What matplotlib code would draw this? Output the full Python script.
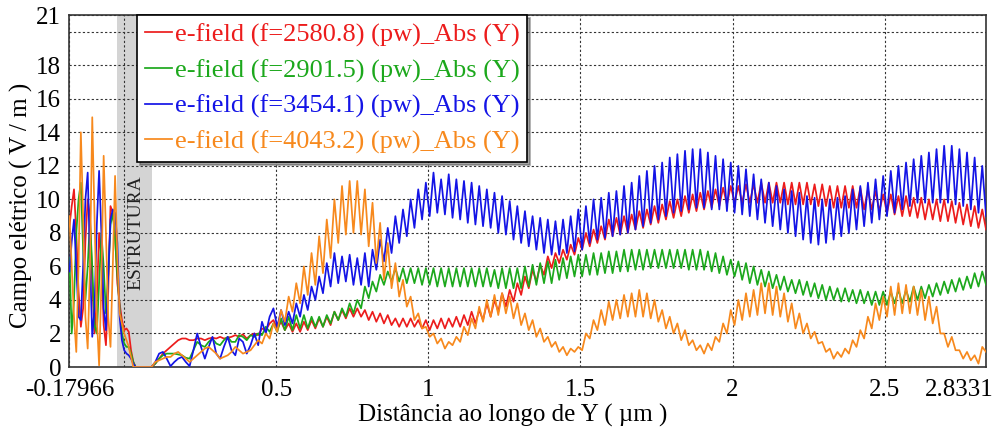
import numpy as np
import matplotlib.pyplot as plt
from matplotlib.transforms import ScaledTranslation

plt.rcParams["font.family"] = ["Liberation Serif", "DejaVu Serif"]

LABELS = [
    "e-field (f=2580.8) (pw)_Abs (Y)",
    "e-field (f=2901.5) (pw)_Abs (Y)",
    "e-field (f=3454.1) (pw)_Abs (Y)",
    "e-field (f=4043.2) (pw)_Abs (Y)",
]
COLORS = ["#ec1c1c", "#1ca81c", "#1414e6", "#f7891d"]

# sample positions (µm): left of the structure, then the region after it
X_LEFT = np.linspace(-0.17966, 0.0828, 36)
X_MAIN = np.linspace(0.09, 2.8331, 220)

RED_LEFT = [8.4, 9.6, 10.6, 8.0, 4.5, 2.4, 3.5, 7.5, 10.0, 9.0, 5.0, 2.0,
            4.0, 8.0, 6.5, 2.5, 1.3, 4.5, 9.6, 9.2, 8.0, 5.0, 3.8, 2.8,
            2.2, 2.3, 2.1, 1.0, 0.3, 0.0, 0.0, 0.0, 0.0, 0.0, 0.0, 0.0]
GREEN_LEFT = [6.5, 2.0, 4.0, 8.0, 10.0, 11.0, 7.0, 4.0, 6.0, 8.8, 6.0, 2.5,
              2.0, 5.0, 8.0, 6.0, 3.2, 5.5, 8.5, 9.2, 7.6, 5.5, 3.6, 2.0,
              1.4, 1.2, 1.2, 0.8, 0.3, 0.0, 0.0, 0.0, 0.0, 0.0, 0.0, 0.0]
BLUE_LEFT = [5.7, 7.5, 8.8, 6.0, 3.0, 2.8, 6.0, 10.0, 11.6, 6.5, 1.8, 3.5,
             8.5, 11.7, 8.0, 3.5, 2.2, 5.5, 8.8, 9.4, 9.2, 7.4, 3.0, 1.6,
             1.0, 0.8, 0.7, 0.5, 0.2, 0.0, 0.0, 0.0, 0.0, 0.0, 0.0, 0.0]
ORANGE_LEFT = [9.0, 6.0, 3.0, 0.9, 6.0, 14.0, 9.0, 3.0, 1.1, 6.0, 14.9, 9.0,
               3.0, 0.1, 5.0, 12.6, 8.0, 3.0, 1.2, 6.0, 11.4, 6.5, 3.2, 2.6,
               2.0, 1.6, 1.2, 0.6, 0.0, 0.0, 0.0, 0.0, 0.0, 0.0, 0.0, 0.0]

RED_MAIN = [
    0.0, 0.2, 0.5, 0.8, 1.0, 1.2, 1.4, 1.6,
    1.7, 1.7, 1.6, 1.6, 1.7, 1.7, 1.6, 1.7,
    1.75, 1.7, 1.8, 1.7, 1.75, 1.8, 1.9, 1.8,
    1.95, 1.7, 1.9, 2.0, 1.9, 2.3, 2.2, 2.6,
    2.8, 2.3, 2.7, 2.2, 2.6, 2.1, 2.6, 2.1,
    2.7, 2.2, 2.8, 2.3, 2.9, 2.4, 3.0, 2.5,
    3.3, 2.8, 3.4, 2.9, 3.5, 3.0, 3.5, 3.0,
    3.4, 2.8, 3.3, 2.7, 3.2, 2.6, 3.1, 2.5,
    2.9, 2.4, 2.9, 2.4, 2.9, 2.4, 2.8, 2.3,
    2.8, 2.2, 2.8, 2.3, 2.9, 2.3, 2.9, 2.4,
    3.0, 2.4, 3.1, 2.5, 3.3, 2.6, 3.4, 2.8,
    3.8, 3.0, 4.0, 3.3, 4.4, 3.6, 4.6, 3.9,
    5.0, 4.3, 5.4, 4.7, 5.8, 5.1, 6.1, 5.5,
    6.6, 5.9, 6.8, 6.2, 7.0, 6.4, 7.3, 6.7,
    7.7, 7.0, 8.0, 7.2, 8.2, 7.4, 8.4, 7.6,
    8.8, 7.8, 8.9, 7.9, 9.0, 8.0, 9.1, 8.2,
    9.3, 8.3, 9.4, 8.5, 9.6, 8.6, 9.7, 8.8,
    9.9, 8.9, 10.0, 9.0, 10.2, 9.2, 10.3, 9.3,
    10.4, 9.4, 10.5, 9.5, 10.6, 9.6, 10.7, 9.7,
    10.8, 9.8, 10.8, 9.8, 10.9, 9.8, 10.9, 9.8,
    11.0, 9.8, 11.0, 9.8, 11.0, 9.8, 11.0, 9.7,
    11.0, 9.7, 11.0, 9.7, 11.0, 9.7, 10.9, 9.6,
    10.9, 9.6, 10.8, 9.5, 10.8, 9.5, 10.8, 9.5,
    10.8, 9.5, 10.7, 9.4, 10.6, 9.4, 10.5, 9.3,
    10.3, 9.2, 10.3, 9.1, 10.2, 9.0, 10.2, 9.0,
    10.1, 8.9, 10.1, 8.8, 10.0, 8.8, 10.0, 8.7,
    10.0, 8.7, 9.9, 8.6, 9.8, 8.5, 9.7, 8.4,
    9.6, 8.3, 9.4, 8.2,
]
GREEN_MAIN = [
    0.0, 0.2, 0.5, 0.7, 0.8, 0.8, 0.8, 0.75,
    0.7, 0.55, 0.5, 1.0, 1.5, 1.3, 1.2, 1.5,
    1.7, 1.4, 1.3, 1.6, 1.8, 1.5, 1.5, 1.9,
    1.8, 1.6, 1.9, 1.8, 2.0, 1.9, 2.4, 2.1,
    2.6, 2.1, 2.9, 2.2, 3.0, 2.2, 3.1, 2.3,
    3.1, 2.3, 3.0, 2.4, 3.0, 2.4, 3.1, 2.6,
    3.3, 2.8, 3.5, 3.0, 3.8, 3.2, 4.0, 3.5,
    4.8, 4.1, 5.1, 4.5, 5.5, 4.9, 5.7, 5.1,
    5.9, 5.1, 5.9, 5.0, 5.9, 5.0, 5.9, 4.9,
    5.9, 4.9, 5.9, 4.8, 5.9, 4.8, 5.9, 4.8,
    5.9, 4.8, 5.9, 4.8, 5.9, 4.8, 5.9, 4.8,
    5.9, 4.8, 5.8, 4.7, 5.9, 4.7, 5.9, 4.7,
    5.9, 4.7, 6.0, 4.8, 6.1, 4.9, 6.2, 5.0,
    6.3, 5.0, 6.4, 5.2, 6.5, 5.3, 6.6, 5.4,
    6.7, 5.4, 6.7, 5.5, 6.8, 5.5, 6.8, 5.6,
    6.9, 5.6, 6.9, 5.7, 7.0, 5.7, 7.0, 5.8,
    7.0, 5.8, 7.0, 5.9, 7.0, 5.9, 7.0, 5.9,
    7.0, 5.9, 7.0, 5.9, 7.0, 5.8, 7.0, 5.8,
    7.0, 5.8, 6.9, 5.7, 6.8, 5.6, 6.6, 5.5,
    6.4, 5.4, 6.3, 5.2, 6.2, 5.0, 6.0, 4.9,
    5.8, 4.8, 5.7, 4.7, 5.5, 4.6, 5.4, 4.5,
    5.2, 4.4, 5.2, 4.3, 5.1, 4.2, 5.0, 4.1,
    4.9, 4.0, 4.8, 4.0, 4.7, 3.9, 4.7, 3.9,
    4.6, 3.8, 4.6, 3.8, 4.5, 3.7, 4.5, 3.7,
    4.5, 3.7, 4.5, 3.8, 4.6, 3.8, 4.6, 3.9,
    4.8, 4.0, 4.8, 4.1, 4.9, 4.2, 5.0, 4.3,
    5.1, 4.4, 5.2, 4.5, 5.3, 4.6, 5.4, 4.7,
    5.6, 4.8, 5.7, 4.9,
]
BLUE_MAIN = [
    0.0, 0.3, 0.8, 0.9, 0.5, 0.05, 0.3, 0.5,
    0.6, 0.3, 0.05, 1.0, 2.0, 1.2, 0.5, 1.2,
    1.8, 0.8, 0.5, 1.2, 1.8, 1.0, 0.7, 1.7,
    1.5, 0.8, 1.3, 2.0, 1.3, 2.7, 2.0, 3.0,
    3.5, 2.4, 3.4, 2.5, 3.3, 2.6, 3.8, 3.0,
    4.3, 3.4, 4.8, 4.0, 5.4, 4.4, 6.2, 4.8,
    6.8, 5.0, 6.6, 5.1, 6.7, 4.9, 6.5, 4.9,
    6.8, 4.8, 7.0, 5.8, 7.6, 6.3, 8.3, 6.8,
    9.0, 7.4, 9.4, 7.8, 10.0, 8.3, 10.6, 8.8,
    11.0, 9.0, 11.6, 9.2, 11.2, 9.1, 11.5, 8.9,
    11.2, 8.8, 11.1, 8.6, 11.0, 8.5, 10.8, 8.4,
    10.6, 8.3, 10.4, 8.0, 10.2, 7.9, 9.9, 7.6,
    9.6, 7.4, 9.3, 7.2, 9.0, 7.0, 8.9, 6.8,
    8.8, 6.7, 8.7, 6.7, 8.8, 6.8, 9.0, 6.9,
    9.4, 7.0, 9.6, 7.4, 10.0, 7.6, 10.1, 7.7,
    10.4, 7.8, 10.5, 7.9, 10.8, 8.0, 11.0, 8.2,
    11.4, 8.4, 11.7, 8.6, 12.0, 8.8, 12.2, 9.0,
    12.5, 9.2, 12.7, 9.3, 12.9, 9.4, 13.0, 9.5,
    13.0, 9.5, 12.8, 9.4, 12.6, 9.4, 12.4, 9.3,
    12.2, 9.2, 12.0, 9.1, 11.8, 9.0, 11.5, 8.8,
    11.2, 8.6, 11.0, 8.4, 10.8, 8.2, 10.6, 8.0,
    10.5, 7.8, 10.4, 7.6, 10.2, 7.4, 10.1, 7.3,
    10.0, 7.4, 10.0, 7.6, 10.1, 7.8, 10.2, 8.0,
    10.6, 8.2, 10.8, 8.4, 11.0, 8.6, 11.2, 8.8,
    11.4, 9.0, 11.7, 9.2, 12.0, 9.4, 12.2, 9.6,
    12.4, 9.8, 12.6, 9.8, 12.8, 9.8, 13.0, 9.8,
    13.2, 9.8, 13.2, 9.7, 13.0, 9.6, 12.8, 9.4,
    12.5, 9.2, 12.0, 9.0,
]
ORANGE_MAIN = [
    0.0, 0.3, 0.4, 0.5, 0.6, 0.6, 0.8, 0.9,
    0.7, 0.5, 0.3, 0.5, 0.7, 0.9, 1.1, 1.2,
    1.0, 0.8, 0.5, 0.6, 0.7, 0.9, 1.2, 1.0,
    0.8, 0.9, 1.0, 1.3, 1.6, 1.4, 2.0, 1.7,
    2.6, 2.1, 3.4, 2.7, 4.2, 3.3, 5.0, 3.8,
    6.0, 4.3, 6.8, 4.9, 7.8, 5.6, 8.8, 6.5,
    10.0, 7.4, 10.8, 7.9, 11.1, 8.0, 11.1, 7.9,
    10.6, 7.2, 9.8, 6.2, 8.6, 5.2, 7.4, 4.7,
    6.2, 4.2, 5.2, 3.6, 4.2, 2.8, 3.2, 2.3,
    2.4, 1.8, 2.0, 1.4, 1.7, 1.1, 1.5, 1.3,
    1.8, 1.5, 2.4, 1.9, 2.9, 2.3, 3.6, 2.7,
    4.0, 3.0, 4.3, 3.1, 4.4, 3.2, 4.2, 2.9,
    3.8, 2.5, 3.2, 2.2, 2.8, 1.8, 2.3, 1.5,
    1.8, 1.2, 1.5, 0.9, 1.2, 0.7, 1.1, 0.9,
    1.2, 1.0, 2.0, 1.7, 2.8, 2.2, 3.4, 2.5,
    3.9, 2.8, 4.0, 2.9, 4.3, 3.0, 4.4, 3.0,
    4.6, 3.0, 4.4, 2.9, 4.0, 2.7, 3.4, 2.3,
    3.0, 2.0, 2.6, 1.6, 2.2, 1.3, 1.6, 1.0,
    1.3, 0.8, 1.4, 1.0, 1.8, 1.5, 2.6, 2.0,
    3.4, 2.5, 4.0, 2.8, 4.4, 3.0, 4.6, 3.1,
    5.0, 3.2, 5.0, 3.1, 4.8, 3.0, 4.4, 2.7,
    3.8, 2.3, 3.2, 2.0, 2.6, 1.7, 2.1, 1.4,
    1.5, 0.9, 1.1, 0.5, 0.9, 0.6, 1.1, 0.8,
    1.6, 1.2, 2.2, 1.7, 3.0, 2.3, 3.8, 2.8,
    4.2, 3.0, 4.8, 3.1, 5.0, 3.2, 4.9, 3.2,
    4.8, 3.1, 4.6, 2.8, 4.2, 2.6, 3.6, 2.0,
    2.0, 1.2, 1.8, 1.0, 1.0, 0.5, 0.9, 0.4,
    0.7, 0.2, 1.2, 0.9,
]

STRUCTURE = (-0.023, 0.093)
X_TICKS = [-0.17966, 0, 0.5, 1, 1.5, 2, 2.5, 2.8331]
X_TICK_LABELS = ["-0.17966", "", "0.5", "1", "1.5", "2", "2.5", "2.8331"]
Y_TICKS = [0, 2, 4, 6, 8, 10, 12, 14, 16, 18, 20, 21]
Y_TICK_LABELS = ["0", "2", "4", "6", "8", "10", "12", "14", "16", "18", "", "21"]

fig = plt.figure(figsize=(10.02, 4.29), dpi=100)
ax = fig.add_axes([0.0693, 0.1445, 0.9148, 0.8205])

ax.axvspan(*STRUCTURE, color="#d4d4d4", zorder=0, linewidth=0)
ax.text(sum(STRUCTURE) / 2 + 0.005, 8.0, "ESTRUTURA", rotation=90, ha="center",
        va="center", fontsize=14, color="#222222", zorder=1)

x_all = np.concatenate([X_LEFT, X_MAIN])
series = [
    RED_LEFT + RED_MAIN,
    GREEN_LEFT + GREEN_MAIN,
    BLUE_LEFT + BLUE_MAIN,
    ORANGE_LEFT + ORANGE_MAIN,
]
for values, color, label in zip(series, COLORS, LABELS):
    ax.plot(x_all, values, color=color, linewidth=1.25, label=label, zorder=3)

ax.set_xlim(-0.17966, 2.8331)
ax.set_ylim(0, 21)
ax.set_xticks(X_TICKS)
ax.set_xticklabels(X_TICK_LABELS)
ax.set_yticks(Y_TICKS)
ax.set_yticklabels(Y_TICK_LABELS)
ax.tick_params(length=0, labelsize=18)
ax.tick_params(axis="x", pad=8.5)
ax.tick_params(axis="y", pad=6)
ax.grid(True, color="#333333", linestyle=(0, (2, 2)), linewidth=0.8, zorder=1)
ax.set_axisbelow(True)
for spine in ax.spines.values():
    spine.set_color("#333333")
    spine.set_linewidth(1.2)

# the last x label sits against the right edge in the original
last = ax.get_xticklabels()[-1]
last.set_horizontalalignment("right")
last.set_transform(last.get_transform() + ScaledTranslation(8 / 100, 0, fig.dpi_scale_trans))

ax.set_xlabel("Distância ao longo de Y ( µm )", fontsize=18)
ax.set_ylabel("Campo elétrico ( V / m )", fontsize=18)
ax.xaxis.set_label_coords(0.4834, -0.106)
ax.yaxis.set_label_coords(-0.040, 0.459)

legend = ax.legend(loc="upper left", bbox_to_anchor=(0.074, 1.0),
                   fontsize=19, labelcolor="linecolor", fancybox=False,
                   shadow=True, framealpha=1, edgecolor="black",
                   handlelength=1.0, handletextpad=0.12, labelspacing=0.45,
                   borderpad=0.3, borderaxespad=0)
legend.get_frame().set_linewidth(1.2)
legend.set_zorder(5)

fig.savefig("out.png", dpi=100)
